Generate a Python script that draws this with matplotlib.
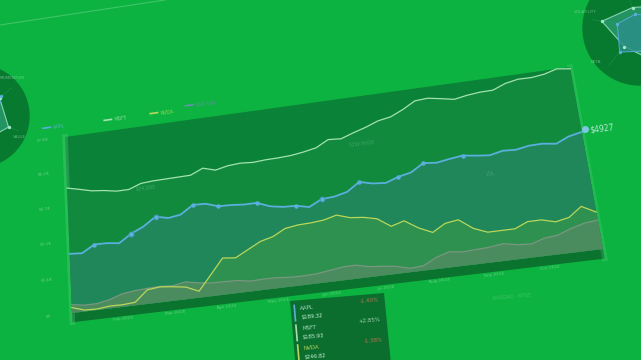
import numpy as np
import matplotlib
matplotlib.use("Agg")
import matplotlib.pyplot as plt
from matplotlib.patches import Polygon, Circle
from matplotlib.transforms import Transform

W, H = 641, 360

# ---- data ----------------------------------------------------------------
month_labels = ["Feb", "Mar", "Apr", "May", "Jun", "Jul", "Aug", "Sep", "Oct"]
msft = [5460, 5330, 5190, 5130, 5030, 5030, 5230, 5270, 5280, 5290, 5300,
        5540, 5380, 5500, 5540, 5500, 5540, 5550, 5580, 5660, 5770, 6060,
        6020, 6210, 6380, 6590, 6690, 6940, 7250, 7290, 7190, 7080, 7180,
        7240, 7250, 7470, 7580, 7570, 7640, 7800, 7720]
aapl = [2540, 2500, 2810, 2800, 2730, 3080, 3320, 3680, 3550, 3630, 3980,
        3960, 3780, 3760, 3710, 3710, 3490, 3390, 3370, 3240, 3510, 3550,
        3680, 4040, 3900, 3850, 4040, 4160, 4490, 4430, 4520, 4590, 4510,
        4450, 4570, 4540, 4640, 4650, 4570, 4810, 4927]
nvda = [230, 60, 40, 100, 90, 130, 590, 650, 590, 510, 270, 900, 1540, 1480,
        1760, 2040, 2180, 2460, 2540, 2560, 2610, 2750, 2570, 2510, 2380,
        1990, 2150, 1780, 1520, 1830, 1910, 1480, 1250, 1250, 1250, 1480,
        1480, 1330, 1440, 1830, 1520]
spx = [350, 270, 270, 370, 550, 620, 650, 670, 630, 730, 620, 550, 540, 520,
       430, 450, 440, 390, 380, 400, 470, 550, 560, 430, 380, 310, 160, 200,
       470, 640, 570, 600, 630, 700, 590, 550, 720, 780, 980, 1130, 1190]
series_names = ["AAPL", "MSFT", "NVDA", "S&P 500"]
y_ticks = [0, 1560, 3120, 4680, 6240, 7800]
y_tick_labels = ["$0", "$1.6K", "$3.1K", "$4.7K", "$6.2K", "$7.8K"]
aapl_marks = [2, 10, 12, 15, 18, 23, 26, 28, 31]
aapl_big_marks = [5, 7, 20]

tickers = ["AAPL", "MSFT", "NVDA"]
prices = ["$189.32", "$185.93", "$246.82"]
changes = ["-1.40%", "+2.85%", "-1.38%"]

radar_labels_right = ["VOLATILITY", "BETA"]
radar_right_a = [0.45, 0.80, 0.50, 0.70, 0.60, 0.60]
radar_right_b = [0.30, 0.48, 0.65, 0.50, 0.40, 0.35]
radar_left_a = [0.55, 0.70, 0.45, 0.60, 0.75, 0.65]
radar_left_b = [0.60, 0.40, 0.55, 0.35, 0.45, 0.70]

# ---- colours -------------------------------------------------------------
BG = "#0db340"
PANEL = "#0a8237"
C_MSFT_FILL = "#128a3e"
C_AAPL_FILL = "#1f875a"
C_NVDA_FILL = "#2f914f"
C_SPX_FILL = "#4b8c5f"
C_MSFT = "#a3e2ad"
C_AAPL = "#5aafdc"
C_NVDA = "#b9d75a"
C_SPX = "#77977f"
TXT = "#9fe0b4"


def homography(corners):
    # unit square (0,0),(1,0),(1,1),(0,1) -> pixel corners
    rows, rhs = [], []
    for (u, v), (x, y) in zip([(0, 0), (1, 0), (1, 1), (0, 1)], corners):
        rows.append([u, v, 1, 0, 0, 0, -u * x, -v * x])
        rhs.append(x)
        rows.append([0, 0, 0, u, v, 1, -u * y, -v * y])
        rhs.append(y)
    h = np.linalg.solve(np.array(rows, float), np.array(rhs, float))
    return np.append(h, 1.0).reshape(3, 3)


class Perspective(Transform):
    input_dims = output_dims = 2

    def __init__(self, corners):
        super().__init__()
        self.m = homography(corners)

    def transform_non_affine(self, values):
        vals = np.asarray(values, float)
        pts = np.atleast_2d(vals)
        p = np.column_stack([pts, np.ones(len(pts))]) @ self.m.T
        out = p[:, :2] / p[:, 2:]
        return out[0] if vals.ndim == 1 else out


fig = plt.figure(figsize=(W / 100, H / 100), dpi=100)
fig.patch.set_facecolor(BG)

# background axes in pixel units (y down)
bg = fig.add_axes([0, 0, 1, 1])
bg.set_xlim(0, W)
bg.set_ylim(H, 0)
bg.axis("off")

# chart axes: scales only, artists are projected onto the tilted panel
chart = fig.add_axes([0, 0, 1, 1])
chart.axis("off")
chart.set_autoscale_on(False)
chart.set_xlim(0, len(aapl) - 1)
chart.set_ylim(0, 7800)

panel = Perspective([(72, 313), (603, 249), (570, 67), (65, 137)])
T_unit = panel + bg.transData
T = chart.transLimits + T_unit

# faint decorative line top-left
bg.plot([0, 165], [25, 0], color="#6fd990", lw=0.8, alpha=0.5)

# radar circles
def radar(cx, cy, r, start, vals_a, vals_b):
    bg.add_patch(Circle((cx, cy), r, color="#087a2f", zorder=1))
    ang = np.deg2rad(start + 60 * np.arange(6))
    for k in range(6):
        bg.plot([cx, cx + r * 0.85 * np.cos(ang[k])],
                [cy, cy - r * 0.85 * np.sin(ang[k])],
                color="#1a9448", lw=0.4, zorder=1)
    for vals, fc, ec in [(vals_a, "#2a9a70", "#9ee6c8"), (vals_b, "#2b8e8a", "#5aaedc")]:
        rr = np.array(vals) * r * 0.85
        xs = cx + rr * np.cos(ang)
        ys = cy - rr * np.sin(ang)
        bg.add_patch(Polygon(np.column_stack([xs, ys]), closed=True,
                             facecolor=fc, edgecolor=ec, lw=0.8, alpha=0.8, zorder=2))
        bg.scatter(xs, ys, s=2, color=ec, zorder=3)


radar(-22, 116, 51, 100, radar_left_a, radar_left_b)
radar(640, 28, 57, 110, radar_right_a, radar_right_b)
bg.text(585, 13, radar_labels_right[0], fontsize=3, color=TXT, alpha=0.6, ha="center")
bg.text(596, 63, radar_labels_right[1], fontsize=3, color=TXT, alpha=0.6, ha="center")
bg.text(12, 79, "MOMENTUM", fontsize=3, color=TXT, alpha=0.6, ha="center")
bg.text(20, 138, "VALUE", fontsize=3, color=TXT, alpha=0.6, ha="center")

# panel body + bottom thickness
chart.add_patch(Polygon([[0, -0.05], [1, -0.05], [1, 0], [0, 0]], closed=True,
                        transform=T_unit, facecolor="#0a732d", edgecolor="none", zorder=1))
chart.add_patch(Polygon([[0, 0], [1, 0], [1, 1], [0, 1]], closed=True,
                        transform=T_unit, facecolor=PANEL, edgecolor="none", zorder=1))
# edge glow
chart.plot([0, 0], [-0.05, 1], transform=T_unit, color="#6fe39a", lw=4, alpha=0.25, clip_on=False, zorder=2)
chart.plot([1, 1], [-0.05, 1], transform=T_unit, color="#6fe39a", lw=4, alpha=0.2, clip_on=False, zorder=2)

x = np.arange(len(aapl))
for vals, fc in [(msft, C_MSFT_FILL), (aapl, C_AAPL_FILL), (nvda, C_NVDA_FILL), (spx, C_SPX_FILL)]:
    chart.fill_between(x, vals, 0, transform=T, facecolor=fc, edgecolor="none",
                       clip_on=False, zorder=3)

chart.plot(x, spx, color=C_SPX, lw=0.9, transform=T, clip_on=False, zorder=4)
chart.plot(x, nvda, color=C_NVDA, lw=0.9, transform=T, clip_on=False, zorder=4)
chart.plot(x, msft, color=C_MSFT, lw=0.9, transform=T, clip_on=False, zorder=4)
chart.plot(x, aapl, color=C_AAPL, lw=1.3, transform=T, clip_on=False, zorder=5)
chart.plot(x[aapl_marks], np.array(aapl)[aapl_marks], "o", ms=2.2, color=C_AAPL,
           transform=T, clip_on=False, zorder=6)
chart.plot(x[aapl_big_marks], np.array(aapl)[aapl_big_marks], "o", ms=3.6, color="#5fb4d8",
           markeredgecolor="#3f93b8", mew=0.6, transform=T, clip_on=False, zorder=6)
chart.plot([x[-1] + 0.3], [aapl[-1] + 120], "o", ms=4, color="#7ec7e4",
           transform=T, clip_on=False, zorder=6)
chart.annotate(f"${aapl[-1]}", (x[-1] + 0.3, aapl[-1] + 120), xycoords=T,
               xytext=(3, 0), textcoords="offset points", fontsize=5.5,
               color="#b8e6d6", va="center", rotation=7, zorder=7)

# axis labels
for v, lab in zip(y_ticks, y_tick_labels):
    chart.text(-1.9, v, lab, transform=T, fontsize=3.2, color=TXT, alpha=0.6,
               ha="center", va="center", rotation=7)
for k, lab in enumerate(month_labels):
    chart.text(4 * (k + 1), -500, lab + " 2024", transform=T, fontsize=3.2, color=TXT,
               alpha=0.6, ha="center", va="center", rotation=7)

# legend along the top edge
for k, (name, col) in enumerate(zip(series_names, [C_AAPL, C_MSFT, C_NVDA, "#6a8fb0"])):
    x0 = [-1.8, 3.3, 7.1, 10.0][k]
    y0 = 7800 * [1.07, 1.066, 1.068, 1.085][k]
    chart.plot([x0, x0 + 0.6], [y0, y0], color=col, lw=1.2, transform=T, clip_on=False, zorder=6)
    chart.text(x0 + 0.8, y0, name, transform=T, fontsize=3.4, color=col, alpha=0.85,
               va="center", rotation=8)

# faint in-chart annotations
chart.text(5.5, 4950, "104,300", transform=T, fontsize=3.5, color=TXT, alpha=0.35, rotation=7)
chart.text(22.5, 5600, "52W HIGH", transform=T, fontsize=3.5, color=TXT, alpha=0.3, rotation=7)
chart.text(32.5, 3600, "VOL", transform=T, fontsize=3.5, color=TXT, alpha=0.3, rotation=7)
bg.text(512, 299, "NASDAQ · NYSE", fontsize=3.5, color=TXT, alpha=0.35, rotation=5, ha="center")

# ticker card
card = Perspective([(297, 382), (392, 374), (384, 293), (290, 301)])
Tc = card + bg.transData
bg.add_patch(Polygon([[0, 0], [1, 0], [1, 1], [0, 1]], closed=True, transform=Tc,
                     facecolor="#0b6e2e", edgecolor="none", zorder=8))
bar_cols = [C_AAPL, C_MSFT, C_NVDA]
chg_cols = ["#e0785a", "#c8efd6", "#e0785a"]
for k in range(3):
    top = 0.94 - 0.245 * k
    bg.plot([0.04, 0.04], [top, top - 0.19], transform=Tc, color=bar_cols[k], lw=1.2, zorder=9)
    bg.text(0.1, top - 0.04, tickers[k], transform=Tc, fontsize=4, color=bar_cols[k] if k == 2 else "#a8dcc0",
            va="center", rotation=5, zorder=9)
    bg.text(0.1, top - 0.145, prices[k], transform=Tc, fontsize=3.8, color="#c8efd6",
            va="center", rotation=5, zorder=9)
    bg.text(0.94, top - 0.03, changes[k], transform=Tc, fontsize=4, color=chg_cols[k],
            va="center", ha="right", rotation=5, alpha=0.8, zorder=9)

fig.savefig("out.png", dpi=100, facecolor=BG)
